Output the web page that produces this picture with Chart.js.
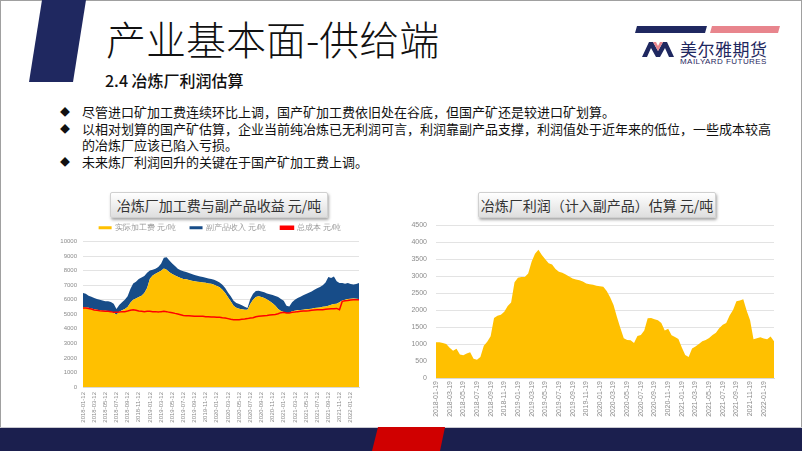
<!DOCTYPE html>
<html>
<head>
<meta charset="utf-8">
<script src="https://cdn.jsdelivr.net/npm/chart.js@4.4.1/dist/chart.umd.min.js"></script>
<style>
  body { margin:0; width:802px; height:451px; position:relative; overflow:hidden; background:#fff;
         font-family:"Noto Sans CJK SC", sans-serif; }
  .frame { position:absolute; left:0; top:0; width:800px; height:449px; border:1px solid #a0a0a0; }
  .slant { position:absolute; left:0; top:0; width:100px; height:82px; background:#1f2860;
           clip-path:polygon(42px 0, 86px 0, 73px 82px, 29px 82px); }
  .title { position:absolute; left:106px; top:18px; font-size:40px; line-height:40px; font-weight:300; color:#111; }
  .sub { position:absolute; left:105px; top:71px; font-size:16px; line-height:18px; color:#111; font-weight:500; }
  .logo-bar1 { position:absolute; left:635px; top:26px; width:72px; height:7px; background:#1f2860;
               clip-path:polygon(2px 0, 100% 0, calc(100% - 2px) 100%, 0 100%); }
  .logo-bar2 { position:absolute; left:710px; top:26px; width:70px; height:7px; background:#e8858d;
               clip-path:polygon(2px 0, 100% 0, calc(100% - 2px) 100%, 0 100%); }
  .logo-cn { position:absolute; left:680px; top:40px; font-size:17px; line-height:18px; color:#1f2860; letter-spacing:0.5px; }
  .logo-en { position:absolute; left:680px; top:57px; font-family:"Liberation Sans", sans-serif; font-size:8px; line-height:9px; color:#1f2860; letter-spacing:0.45px; }
  .logo-m { position:absolute; left:642px; top:42px; }
  .bullets { position:absolute; left:60px; top:104px; font-size:13px; line-height:16.7px; color:#111; }
  .bullets div { position:relative; padding-left:22px; }
  .bullets div::before { content:"◆"; position:absolute; left:0; top:0; font-size:10px; }
  .cap { position:absolute; height:24px; line-height:24px; font-size:14px; color:#333; text-align:center;
         background:linear-gradient(#ffffff, #dedede); border:1px solid #d0d0d0; border-radius:2px;
         box-shadow:1px 2px 3px rgba(0,0,0,0.35); }
  canvas { position:absolute; }
  .foot { position:absolute; left:0; top:427px; width:802px; height:24px; background:#1b1f4e; border-top:1px solid #c8c8d0; }
  .foot-red { position:absolute; left:0; top:427px; width:802px; height:24px; background:#d00000;
              clip-path:polygon(378px 0, 445px 0, 440px 24px, 372px 24px); }
</style>
</head>
<body>
<div class="frame"></div>
<div class="slant"></div>
<div class="title">产业基本面-供给端</div>
<div class="sub">2.4 冶炼厂利润估算</div>

<div class="logo-bar1"></div>
<div class="logo-bar2"></div>
<svg class="logo-m" width="32" height="15" viewBox="0 0 32 15">
  <polygon points="0,15 7,0 11,0 16,9 21,0 25,0 32,15 27,15 23,6 18,15 14,15 9,6 5,15" fill="#1f2860"/>
  <polygon points="11,0 14,0 16,4 18,0 21,0 16,9" fill="#e8858d"/>
</svg>
<div class="logo-cn">美尔雅期货</div>
<div class="logo-en">MAILYARD FUTURES</div>

<div class="bullets">
  <div>尽管进口矿加工费连续环比上调，国产矿加工费依旧处在谷底，但国产矿还是较进口矿划算。</div>
  <div>以相对划算的国产矿估算，企业当前纯冶炼已无利润可言，利润靠副产品支撑，利润值处于近年来的低位，一些成本较高<br>的冶炼厂应该已陷入亏损。</div>
  <div>未来炼厂利润回升的关键在于国产矿加工费上调。</div>
</div>

<div class="cap" style="left:110px; top:192px; width:216px;">冶炼厂加工费与副产品收益 元/吨</div>
<div class="cap" style="left:478px; top:192px; width:236px;">冶炼厂利润（计入副产品）估算 元/吨</div>

<canvas id="left" width="320" height="219" style="left:45px; top:210px;"></canvas>
<canvas id="right" width="382" height="214" style="left:398px; top:212px;"></canvas>

<div class="foot"></div>
<div class="foot-red"></div>

<script>
// half-month samples, 2018-01 .. 2022-02
const stepMonths = 0.5;

const leftTickLabels = ['2018-01-12','2018-03-12','2018-05-12','2018-07-12','2018-09-12','2018-11-12',
  '2019-01-12','2019-03-12','2019-05-12','2019-07-12','2019-09-12','2019-11-12',
  '2020-01-12','2020-03-12','2020-05-12','2020-07-12','2020-09-12','2020-11-12',
  '2021-01-12','2021-03-12','2021-05-12','2021-07-12','2021-09-12','2021-11-12','2022-01-12'];

const rightTickLabels = ['2018-01-19','2018-03-19','2018-05-19','2018-07-19','2018-09-19','2018-11-19',
  '2019-01-19','2019-03-19','2019-05-19','2019-07-19','2019-09-19','2019-11-19',
  '2020-01-19','2020-03-19','2020-05-19','2020-07-19','2020-09-19','2020-11-19',
  '2021-01-19','2021-03-19','2021-05-19','2021-07-19','2021-09-19','2021-11-19','2022-01-19'];

// 实际加工费 元/吨
const processingFee = [5500,5470,5450,5400,5340,5310,5270,5240,5240,5220,
  5180,5110,4970,5180,5270,5360,5500,5790,6000,6090,
  6180,6280,6460,6800,7440,7670,7790,7880,7990,8150,
  8060,7880,7760,7670,7580,7490,7420,7400,7350,7310,
  7260,7240,7210,7190,7170,7120,7100,7030,6940,6850,
  6690,6460,6160,5890,5590,5450,5380,5340,5310,5310,
  5700,6000,6180,6230,6180,6120,6020,5890,5750,5590,
  5360,5220,5150,5080,5080,5200,5240,5270,5290,5310,
  5340,5360,5380,5430,5450,5470,5520,5540,5590,5660,
  5700,5730,5820,5950,6000,6050,6070,6090,6070,6050];

// 副产品收入 元/吨
const byproductIncome = [960,940,830,800,780,730,730,710,660,670,
  660,620,390,460,550,640,730,940,1120,1150,
  1240,1240,1170,1050,570,390,340,370,480,730,
  850,820,730,640,550,530,530,500,480,460,
  430,410,390,370,340,340,320,340,340,340,
  340,340,340,340,340,320,320,280,210,120,
  340,410,410,390,390,390,410,480,570,660,
  820,830,780,500,460,620,760,850,920,990,
  1050,1120,1190,1260,1330,1400,1470,1650,1970,1830,
  1900,1540,1330,1190,1100,1100,1010,960,1010,1100];

// 总成本 元/吨
const totalCost = [5430,5430,5400,5360,5290,5270,5240,5220,5200,5200,
  5180,5130,5130,5150,5180,5180,5220,5270,5310,5270,
  5220,5200,5180,5200,5200,5180,5180,5150,5180,5200,
  5180,5130,5110,5060,5020,4970,4920,4900,4900,4880,
  4860,4860,4860,4860,4830,4830,4810,4810,4790,4790,
  4760,4740,4700,4650,4630,4630,4630,4650,4670,4700,
  4740,4760,4830,4860,4880,4900,4920,4950,4970,4990,
  5040,5110,5130,5080,5080,5130,5150,5180,5200,5220,
  5220,5240,5270,5290,5310,5310,5310,5340,5360,5380,
  5380,5400,5310,5890,5930,5950,5980,6000,6000,6000];

// 冶炼厂利润（计入副产品） 元/吨
const smelterProfit = [1050,1050,1030,1000,890,800,860,690,670,720,
  760,570,540,620,950,1070,1230,1770,1830,1860,
  1950,2120,2220,2820,2950,2975,2975,3080,3420,3660,
  3780,3620,3500,3380,3340,3210,3130,3100,3050,2990,
  2930,2900,2880,2840,2780,2760,2745,2720,2700,2690,
  2560,2380,2150,1800,1470,1170,1120,1110,1030,1240,
  1270,1400,1760,1770,1730,1700,1620,1400,1450,1260,
  1210,1150,900,680,620,870,930,1000,1080,1120,
  1180,1270,1330,1470,1570,1620,1840,2000,2260,2280,
  2320,1980,1700,1140,1170,1200,1160,1140,1220,1080];

const asPoints = arr => arr.map((v, i) => ({ x: i * stepMonths, y: v }));

const tickFont = (size) => ({ family: '"Liberation Sans", sans-serif', size: size });

function xAxis(labels, size, height, pad) {
  return {
    type: 'linear', min: 0, max: 49.5,
    grid: { display: false, drawTicks: false },
    border: { color: '#d9d9d9' },
    ticks: {
      stepSize: 2, includeBounds: false, autoSkip: false,
      minRotation: 90, maxRotation: 90, padding: pad,
      color: '#8c8c8c', font: tickFont(size),
      callback: v => labels[Math.round(v / 2)]
    },
    afterFit: s => { s.height = height; }
  };
}

function yAxis(max, step, size, pad, stacked) {
  return {
    stacked: stacked, min: 0, max: max,
    grid: { color: '#e3e3e3', drawTicks: false }, border: { display: false },
    ticks: { stepSize: step, color: '#8c8c8c', font: tickFont(size), padding: pad, callback: v => String(v) },
    afterFit: s => { s.width = 38; }
  };
}

// nudge the legend right so it sits over the plot like the original
const legendShift = {
  id: 'legendShift',
  afterLayout(chart) {
    chart.legend.left += 18;
    chart.legend.right += 18;
  }
};

new Chart(document.getElementById('left'), {
  type: 'line',
  data: {
    datasets: [
      { label: '实际加工费 元/吨', data: asPoints(processingFee), stack: 'rev', fill: 'origin',
        backgroundColor: '#ffc000', borderColor: '#ffc000', borderWidth: 0, pointRadius: 0 },
      { label: '副产品收入 元/吨', data: asPoints(byproductIncome), stack: 'rev', fill: '-1',
        backgroundColor: '#174c88', borderColor: '#174c88', borderWidth: 0, pointRadius: 0 },
      { label: '总成本 元/吨', data: asPoints(totalCost), stack: 'cost', fill: false,
        backgroundColor: '#ff0000', borderColor: '#ff0000', borderWidth: 1.5, pointRadius: 0 }
    ]
  },
  options: {
    responsive: false, animation: false,
    layout: { padding: { right: 6, top: 0, bottom: 0, left: 0 } },
    plugins: {
      filler: { drawTime: 'beforeDatasetsDraw' },
      tooltip: { enabled: false },
      legend: {
        position: 'top',
        labels: { boxWidth: 13, boxHeight: 3, padding: 14, color: '#9a9a9a', font: tickFont(7.5) }
      }
    },
    scales: {
      x: xAxis(leftTickLabels, 6, 42, 5),
      y: yAxis(10000, 1000, 6, 6, true)
    }
  },
  plugins: [legendShift]
});

new Chart(document.getElementById('right'), {
  type: 'line',
  data: {
    datasets: [
      { label: '冶炼厂利润', data: asPoints(smelterProfit), fill: 'origin',
        backgroundColor: '#ffc000', borderColor: '#ffc000', borderWidth: 0, pointRadius: 0 }
    ]
  },
  options: {
    responsive: false, animation: false,
    layout: { padding: { right: 6, top: 4, bottom: 0, left: 0 } },
    plugins: { legend: { display: false }, tooltip: { enabled: false } },
    scales: {
      x: xAxis(rightTickLabels, 7, 48, 3),
      y: yAxis(4500, 500, 7, 9, false)
    }
  }
});
</script>
</body>
</html>
